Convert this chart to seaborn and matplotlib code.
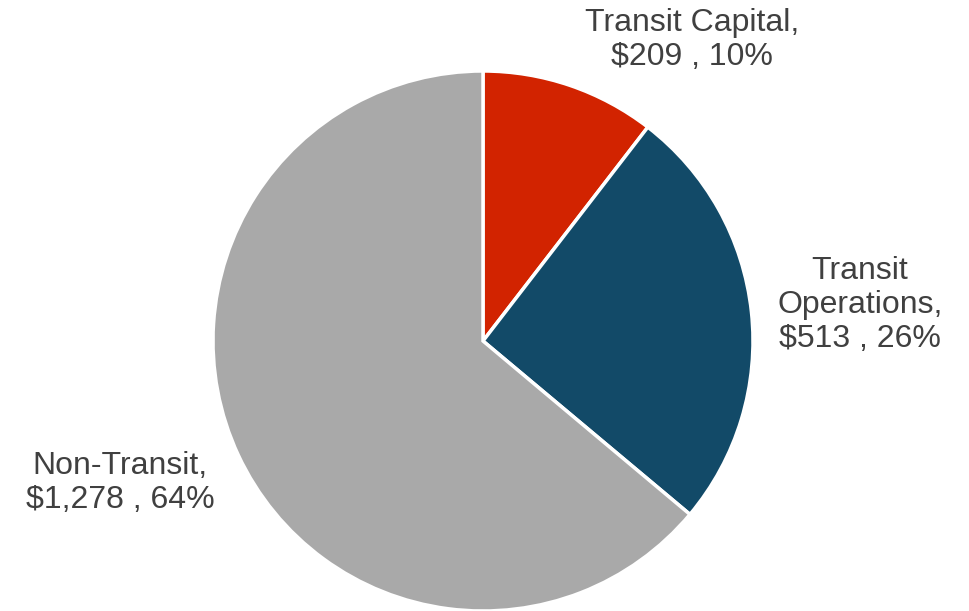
import matplotlib
matplotlib.use('Agg')
import matplotlib.pyplot as plt
import seaborn as sns

# Budget split (values in $ millions)
categories = ['Transit Capital', 'Transit Operations', 'Non-Transit']
label_names = ['Transit Capital,', 'Transit\nOperations,', 'Non-Transit,']
values = [209, 513, 1278]
colors = ['#D22300', '#124A68', '#A9A9A9']

sns.set_theme(style='white')
plt.rcParams['font.family'] = ['Liberation Sans', 'DejaVu Sans']

fig = plt.figure(figsize=(9.7, 6.11), dpi=100)
ax = fig.add_axes([0, 0, 1, 1])

ax.pie(values, colors=colors, startangle=90, counterclock=False,
       wedgeprops=dict(edgecolor='white', linewidth=2.5))

# place labels around the pie
total = sum(values)
label_pos = [(0.774, 1.115), (1.396, 0.133), (-1.344, -0.526)]
for name, v, (x, y) in zip(label_names, values, label_pos):
    txt = f"{name}\n${v:,} , {round(v / total * 100):.0f}%"
    ax.text(x, y, txt, ha='center', va='center', fontsize=23,
            color='#404040', linespacing=1.17)

ax.set_xlim(-483 / 270, (970 - 483) / 270)
ax.set_ylim(-(611 - 341) / 270, 341 / 270)
ax.set_aspect('auto')
ax.axis('off')

fig.savefig('out.png', dpi=100, facecolor='white')
